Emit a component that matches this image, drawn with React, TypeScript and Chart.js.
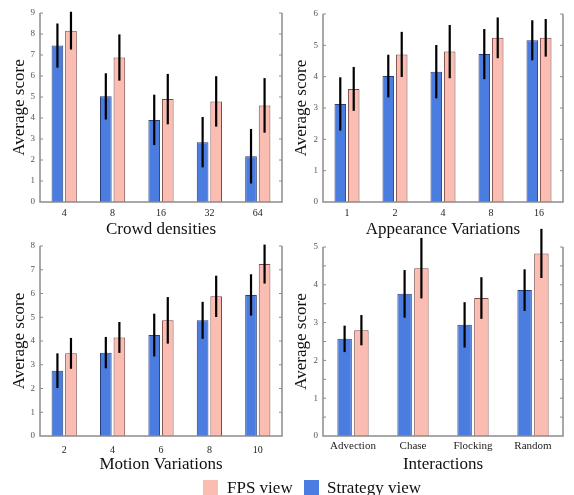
import React, { useEffect, useRef } from 'react';
import { Chart, registerables } from 'chart.js';
Chart.register(...registerables);

// ---------- data ----------
const crowdLabels = ['4', '8', '16', '32', '64'];
const crowdStrategy = [7.45, 5.03, 3.91, 2.85, 2.18];
const crowdStrategyErr = [1.05, 1.1, 1.2, 1.2, 1.3];
const crowdFps = [8.16, 6.88, 4.9, 4.79, 4.6];
const crowdFpsErr = [0.9, 1.1, 1.2, 1.2, 1.3];

const appearLabels = ['1', '2', '4', '8', '16'];
const appearStrategy = [3.13, 4.02, 4.16, 4.72, 5.16];
const appearStrategyErr = [0.85, 0.68, 0.85, 0.8, 0.64];
const appearFps = [3.61, 4.71, 4.8, 5.24, 5.24];
const appearFpsErr = [0.7, 0.72, 0.85, 0.65, 0.6];

const motionLabels = ['2', '4', '6', '8', '10'];
const motionStrategy = [2.75, 3.51, 4.25, 4.87, 5.94];
const motionStrategyErr = [0.73, 0.66, 0.9, 0.78, 0.87];
const motionFps = [3.48, 4.15, 4.87, 5.88, 7.24];
const motionFpsErr = [0.65, 0.65, 0.98, 0.87, 0.82];

const interLabels = ['Advection', 'Chase', 'Flocking', 'Random'];
const interStrategy = [2.57, 3.76, 2.94, 3.86];
const interStrategyErr = [0.35, 0.63, 0.6, 0.55];
const interFps = [2.8, 4.44, 3.65, 4.83];
const interFpsErr = [0.4, 0.8, 0.55, 0.65];

const seriesNames = ['Strategy view', 'FPS view'];

const BLUE = '#4a7ddf';
const BLUE_EDGE = '#2b3f78';
const PINK = '#fbbdb2';
const PINK_EDGE = '#7a4a45';
const FONT = "'Liberation Serif', 'Times New Roman', serif";

const decoPlugin = {
  id: 'deco',
  afterDatasetsDraw(chart: any, _args: any, opts: any) {
    const { ctx, chartArea } = chart;
    const { left, right, top, bottom } = chartArea;
    const y = chart.scales.y;
    ctx.save();
    // axes box (no top line)
    ctx.strokeStyle = '#8c8c8c';
    ctx.lineWidth = 1.5;
    ctx.beginPath();
    ctx.moveTo(left, top);
    ctx.lineTo(left, bottom);
    ctx.lineTo(right, bottom);
    ctx.lineTo(right, top);
    ctx.stroke();
    // inward ticks
    ctx.lineWidth = 1;
    ctx.beginPath();
    const step = opts.minor ? 0.5 : 1;
    for (let v = step; v <= y.max + 1e-9; v += step) {
      const py = y.getPixelForValue(v);
      ctx.moveTo(left, py);
      ctx.lineTo(left + 3, py);
      ctx.moveTo(right, py);
      ctx.lineTo(right - 3, py);
    }
    ctx.stroke();
    // error bars
    ctx.strokeStyle = '#000';
    ctx.lineWidth = 2.2;
    chart.data.datasets.forEach((ds: any, di: number) => {
      const meta = chart.getDatasetMeta(di);
      meta.data.forEach((bar: any, i: number) => {
        const v = ds.data[i];
        const e = ds.errors[i];
        const y1 = y.getPixelForValue(v + e);
        const y2 = y.getPixelForValue(v - e);
        ctx.beginPath();
        ctx.moveTo(bar.x, y1);
        ctx.lineTo(bar.x, y2);
        ctx.stroke();
      });
    });
    ctx.restore();
  },
};

type PanelProps = {
  labels: string[];
  strat: number[];
  stratErr: number[];
  fps: number[];
  fpsErr: number[];
  yMax: number;
  minor?: boolean;
  xTitle: string;
  left: number;
  top: number;
  width: number;
  height: number;
  padTop: number;
  padRight: number;
  yAxisW: number;
  xAxisH: number;
  yTitlePad: number;
  xTickPad: number;
  xTickSize: number;
};

function Panel(p: PanelProps) {
  const ref = useRef<HTMLCanvasElement>(null);
  useEffect(() => {
    if (!ref.current) return;
    const chart = new Chart(ref.current, {
      type: 'bar',
      data: {
        labels: p.labels,
        datasets: [
          {
            label: seriesNames[0],
            data: p.strat,
            errors: p.stratErr,
            backgroundColor: BLUE,
            borderColor: BLUE_EDGE,
            borderWidth: 1,
          } as any,
          {
            label: seriesNames[1],
            data: p.fps,
            errors: p.fpsErr,
            backgroundColor: PINK,
            borderColor: PINK_EDGE,
            borderWidth: 1,
          } as any,
        ],
      },
      options: {
        responsive: false,
        animation: false,
        devicePixelRatio: 1,
        events: [],
        layout: { padding: { top: p.padTop, right: p.padRight, left: 0, bottom: 0 } },
        datasets: { bar: { categoryPercentage: 0.56, barPercentage: 0.86 } },
        plugins: {
          legend: { display: false },
          tooltip: { enabled: false },
          deco: { minor: !!p.minor },
        } as any,
        scales: {
          x: {
            grid: { display: false, drawTicks: false },
            border: { display: false },
            ticks: {
              maxRotation: 0,
              autoSkip: false,
              padding: p.xTickPad,
              color: '#222',
              font: { family: FONT, size: p.xTickSize },
            },
            title: {
              display: true,
              text: p.xTitle,
              color: '#111',
              padding: { top: 0, bottom: 0 },
              font: { family: FONT, size: 17 },
            },
            afterFit: (s: any) => {
              s.height = p.xAxisH;
            },
          },
          y: {
            min: 0,
            max: p.yMax,
            grid: { display: false, drawTicks: false },
            border: { display: false },
            ticks: {
              stepSize: 1,
              padding: 5,
              color: '#555',
              font: { family: FONT, size: 9 },
            },
            title: {
              display: true,
              text: 'Average score',
              color: '#111',
              padding: { top: p.yTitlePad, bottom: 0 },
              font: { family: FONT, size: 17 },
            },
            afterFit: (s: any) => {
              s.width = p.yAxisW;
            },
          },
        },
      },
      plugins: [decoPlugin],
    } as any);
    return () => chart.destroy();
  }, []);
  return (
    <div style={{ position: 'absolute', left: p.left, top: p.top, width: p.width, height: p.height }}>
      <canvas ref={ref} width={p.width} height={p.height} style={{ width: p.width, height: p.height, display: 'block' }} />
    </div>
  );
}

export default function App() {
  return (
    <div style={{ position: 'fixed', left: 0, top: 0, width: 574, height: 495, background: '#fff', overflow: 'hidden', fontFamily: FONT }}>
      <Panel labels={crowdLabels} strat={crowdStrategy} stratErr={crowdStrategyErr} fps={crowdFps} fpsErr={crowdFpsErr}
        yMax={9} xTitle="Crowd densities" left={0} top={0} width={290} height={240}
        padTop={13} padRight={8} yAxisW={40} xAxisH={38} yTitlePad={9} xTickPad={5} xTickSize={10} />
      <Panel labels={appearLabels} strat={appearStrategy} stratErr={appearStrategyErr} fps={appearFps} fpsErr={appearFpsErr}
        yMax={6} xTitle="Appearance Variations" left={283} top={0} width={291} height={240}
        padTop={14} padRight={11} yAxisW={40} xAxisH={38} yTitlePad={8} xTickPad={5} xTickSize={10} />
      <Panel labels={motionLabels} strat={motionStrategy} stratErr={motionStrategyErr} fps={motionFps} fpsErr={motionFpsErr}
        yMax={8} xTitle="Motion Variations" left={0} top={218} width={290} height={257}
        padTop={28} padRight={8} yAxisW={40} xAxisH={39} yTitlePad={9} xTickPad={8} xTickSize={10} />
      <Panel labels={interLabels} strat={interStrategy} stratErr={interStrategyErr} fps={interFps} fpsErr={interFpsErr}
        yMax={5} minor xTitle="Interactions" left={283} top={218} width={291} height={257}
        padTop={29} padRight={11} yAxisW={40} xAxisH={39} yTitlePad={8} xTickPad={4} xTickSize={11} />
      <div style={{ position: 'absolute', left: 203, top: 480, width: 15, height: 16, background: PINK }} />
      <div style={{ position: 'absolute', left: 227, top: 477, fontSize: 17, lineHeight: '22px', color: '#111', whiteSpace: 'nowrap' }}>FPS view</div>
      <div style={{ position: 'absolute', left: 304, top: 480, width: 15, height: 16, background: BLUE }} />
      <div style={{ position: 'absolute', left: 327, top: 477, fontSize: 17, lineHeight: '22px', color: '#111', whiteSpace: 'nowrap' }}>Strategy view</div>
    </div>
  );
}
